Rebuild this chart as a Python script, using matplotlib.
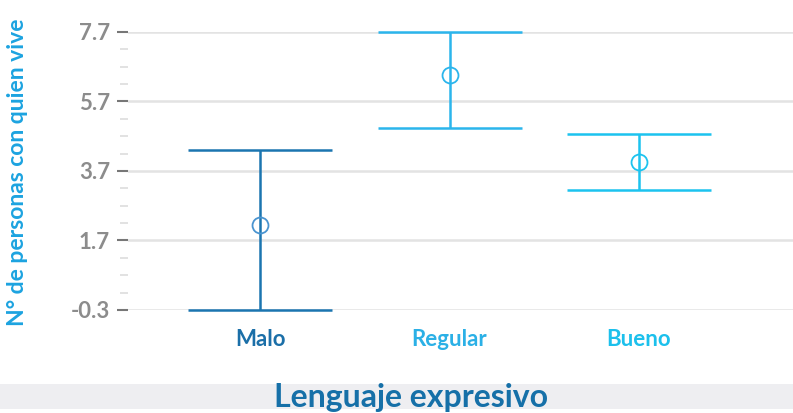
import matplotlib.pyplot as plt
from matplotlib.patches import Rectangle

plt.rcParams["font.family"] = ["Lato", "DejaVu Sans"]

# ====== 資料 ======
categories = ["Malo", "Regular", "Bueno"]
means = [2.15, 6.46, 3.96]
lower = [-0.3, 4.94, 3.15]
upper = [4.30, 7.70, 4.76]
yticks = [-0.3, 1.7, 3.7, 5.7, 7.7]

# ====== 顏色 ======
line_colors = ["#1b75b0", "#2bb5ec", "#1cc3ef"]
marker_colors = ["#4a94d0", "#2bb5ec", "#1cc3ef"]
label_colors = ["#1b6fa8", "#2bb0e6", "#1cc0ec"]
color_grid = "#e3e3e3"
color_tick = "#8c8c8c"

W, H = 793, 413
fig = plt.figure(figsize=(W / 100, H / 100), dpi=100)
ax = fig.add_axes([128 / W, 1 - 310 / H, (W - 128) / W, (310 - 32) / H])

for i, cat in enumerate(categories):
    err = [[means[i] - lower[i]], [upper[i] - means[i]]]
    ax.errorbar(i, means[i], yerr=err, fmt="none", ecolor=line_colors[i],
                elinewidth=1.8, capsize=51.5, capthick=1.8, clip_on=False, zorder=3)
    ax.plot(i, means[i], "o", markersize=11.5, markerfacecolor="none",
            markeredgecolor=marker_colors[i], markeredgewidth=1.3, zorder=4,
            clip_on=False)

ax.set_xlim(-0.697, 2.813)
ax.set_ylim(-0.3, 7.7)
ax.set_yticks(yticks)
ax.set_yticklabels([f"{v:.1f}" for v in yticks])
ax.set_yticks([-0.3 + 0.5 * k for k in range(17) if k % 4 != 0], minor=True)
ax.grid(axis="y", color=color_grid, linewidth=1.8, zorder=0)
ax.set_axisbelow(True)
for s in ax.spines.values():
    s.set_visible(False)

ax.tick_params(axis="y", which="major", length=8, width=1.5, color="#777777",
               labelcolor=color_tick, labelsize=16, pad=5)
ax.tick_params(axis="y", which="minor", length=6, width=1.2, color="#dddddd")
for lab in ax.get_yticklabels():
    lab.set_fontweight("bold")

ax.set_xticks(range(len(categories)))
ax.set_xticklabels(categories)
ax.tick_params(axis="x", length=0, labelsize=16, pad=14)
for lab, c in zip(ax.get_xticklabels(), label_colors):
    lab.set_color(c)
    lab.set_fontweight("bold")

# 底部灰色帶 + x 標題
fig.patches.append(Rectangle((0, 1 - 409 / H), 1, 25 / H, transform=fig.transFigure,
                             facecolor="#eeeef1", edgecolor="none", zorder=0))
fig.text(411 / W, 1 - 397 / H, "Lenguaje expresivo", ha="center", va="center",
         fontsize=23, fontweight="bold", color="#1670a8")
fig.text(18 / W, 1 - 172 / H, "N° de personas con quien vive", ha="center",
         va="center", rotation=90, fontsize=16.5, fontweight="bold", color="#1ca3e0")

fig.savefig("out.png", dpi=100, facecolor="white")
